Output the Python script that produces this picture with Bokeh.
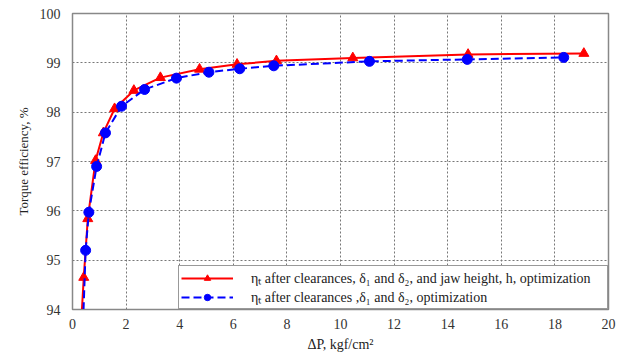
from bokeh.plotting import figure
from bokeh.models import FixedTicker, Range1d
from bokeh.embed import file_html
from bokeh.resources import INLINE

# Data
x_red = [0.30, 0.42, 0.57, 0.86, 1.15, 1.57, 2.29, 3.28, 4.74, 6.14, 7.61, 10.46, 14.76, 19.08]
y_red = [93.5, 94.65, 95.84, 97.02, 97.58, 98.07, 98.44, 98.70, 98.87, 98.97, 99.04, 99.10, 99.17, 99.19]
x_blue = [0.38, 0.49, 0.61, 0.90, 1.23, 1.83, 2.69, 3.88, 5.09, 6.24, 7.51, 11.08, 14.73, 18.33]
y_blue = [93.5, 95.20, 95.97, 96.90, 97.58, 98.12, 98.46, 98.69, 98.81, 98.88, 98.94, 99.03, 99.07, 99.11]
x_ticks = [0, 2, 4, 6, 8, 10, 12, 14, 16, 18, 20]
y_ticks = [94, 95, 96, 97, 98, 99, 100]
label_red = "ηₜ after clearances, δ₁ and δ₂, and jaw height, h, optimization"
label_blue = "ηₜ after clearances ,δ₁ and δ₂, optimization"

FONT = "Liberation Serif"

p = figure(width=623, height=354, output_backend="svg", toolbar_location=None,
           x_range=Range1d(0, 20), y_range=Range1d(94, 100),
           min_border_left=72, min_border_right=15, min_border_top=13, min_border_bottom=45)

p.line(x_red, y_red, color="#ff0000", line_width=2, legend_label=label_red)
p.scatter(x_red, y_red, marker="triangle", size=10, color="#ff0000", legend_label=label_red)
p.line(x_blue, y_blue, color="#0000ff", line_width=2, line_dash="8 4", legend_label=label_blue)
p.scatter(x_blue, y_blue, marker="circle", size=10, color="#0000ff", legend_label=label_blue)

p.xaxis.ticker = FixedTicker(ticks=x_ticks)
p.yaxis.ticker = FixedTicker(ticks=y_ticks)
p.xaxis.minor_tick_line_color = None
p.yaxis.minor_tick_line_color = None
for ax in (p.xaxis, p.yaxis):
    ax.major_tick_in = 0
    ax.major_tick_out = 0
    ax.axis_line_color = "#888888"
    ax.major_label_text_font = FONT
    ax.major_label_text_font_size = "14px"
    ax.major_label_text_color = "#333333"
    ax.axis_label_text_font = FONT
    ax.axis_label_text_font_style = "normal"
    ax.axis_label_text_font_size = "13px"
    ax.axis_label_text_color = "#222222"

p.xaxis.axis_label = "ΔP, kgf/cm²"
p.xaxis.axis_label_text_font_size = "14px"
p.yaxis.axis_label = "Torque efficiency, %"
p.xaxis.major_label_standoff = 9
p.yaxis.major_label_standoff = 12
p.xaxis.axis_label_standoff = 5
p.yaxis.axis_label_standoff = 6

p.grid.grid_line_color = "#777777"
p.grid.grid_line_dash = "2 2"
p.grid.grid_line_width = 1
p.outline_line_color = "#888888"
p.outline_line_width = 1.5

lg = p.legend[0]
lg.location = "bottom_right"
lg.margin = 0
lg.padding = 2
lg.spacing = -5
lg.glyph_width = 52
lg.glyph_height = 16
lg.label_height = 16
lg.label_width = 354
lg.label_standoff = 18
lg.label_text_font = FONT
lg.label_text_font_size = "14px"
lg.label_text_color = "#222222"
lg.border_line_color = "#333333"
lg.border_line_width = 1
lg.background_fill_alpha = 1

open("out.html", "w").write(file_html(p, INLINE))
